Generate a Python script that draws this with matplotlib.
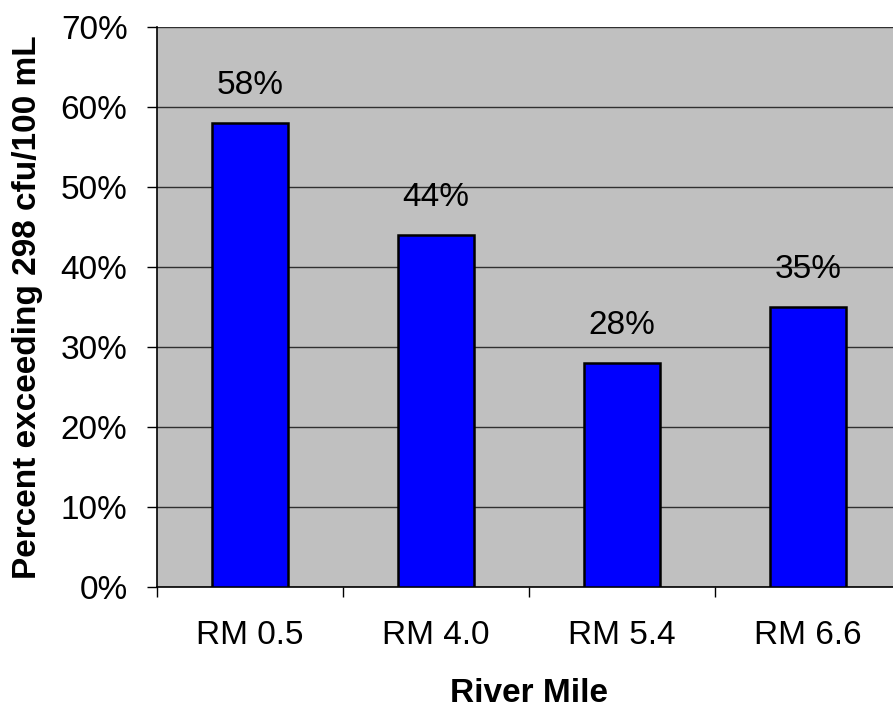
import matplotlib.pyplot as plt
import numpy as np

sites = ['RM 0.5', 'RM 4.0', 'RM 5.4', 'RM 6.6']
pct_exceeding = [58, 44, 28, 35]
y_ticks = [0, 10, 20, 30, 40, 50, 60, 70]

plt.rcParams['font.family'] = ['Liberation Sans', 'DejaVu Sans']

fig = plt.figure(figsize=(8.93, 7.08), dpi=100)
# axes runs a little past the right edge of the figure
ax = fig.add_axes([157 / 893, 1 - 587 / 708, 744 / 893, 560 / 708])
ax.set_facecolor('#c0c0c0')

x = np.arange(len(sites))
ax.bar(x, pct_exceeding, width=0.41, color='#0000ff', edgecolor='black',
       linewidth=1.8, zorder=3)
for xi, v in zip(x, pct_exceeding):
    ax.text(xi, v + 2.7, f'{v}%', ha='center', va='bottom', fontsize=24)

ax.set_xlim(-0.5, len(sites) - 0.5)
ax.set_ylim(0, 70)
ax.set_yticks(y_ticks)
ax.set_yticklabels([f'{t}%' for t in y_ticks], fontsize=24)
ax.yaxis.grid(True, color='#303030', linewidth=1.0, zorder=0)
ax.set_axisbelow(True)
ax.tick_params(axis='y', length=7.2, width=1, direction='out', pad=14)

ax.set_xticks(x)
ax.set_xticklabels(sites, fontsize=24)
ax.set_xticks(np.arange(len(sites) + 1) - 0.5, minor=True)
ax.tick_params(axis='x', which='major', length=0, pad=24)
ax.tick_params(axis='x', which='minor', length=7.2, width=1, direction='out')

for side in ['top', 'right']:
    ax.spines[side].set_visible(False)
ax.spines['left'].set_linewidth(1.2)
ax.spines['bottom'].set_linewidth(1.2)

ax.set_xlabel('River Mile', fontsize=24, fontweight='bold')
ax.xaxis.set_label_coords(0.5, -0.163)
ax.set_ylabel('Percent exceeding 298 cfu/100 mL', fontsize=24,
              fontweight='bold')
ax.yaxis.set_label_coords(-0.153, 0.5)

fig.savefig('out.png', dpi=100)
